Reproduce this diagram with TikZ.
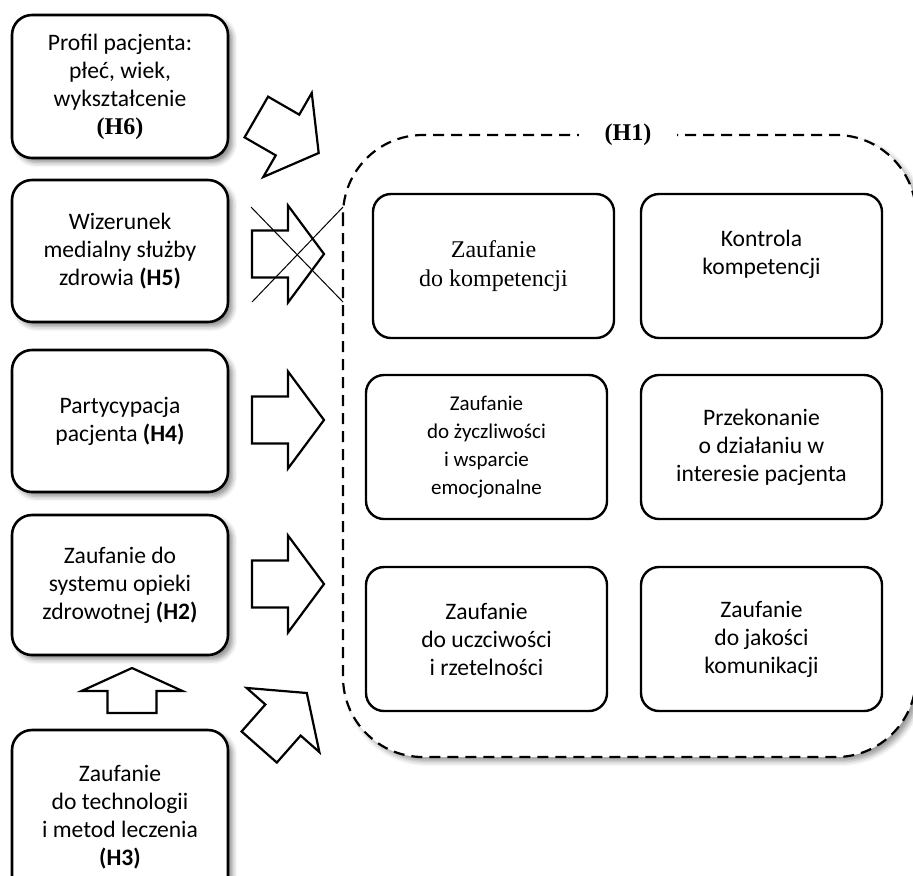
\documentclass[tikz,border=0pt]{standalone}
\usepackage{fontspec}
\setmainfont{Carlito}
\newfontfamily\timesfont{Liberation Serif}
\usetikzlibrary{shadows.blur}

\tikzset{
	boxfont/.style={font=\fontsize{11.8}{14}\selectfont},
	leftbox/.style={draw, line width=1.3pt, rounded corners=10pt, fill=white,
		align=center, boxfont, minimum width=108pt,
		blur shadow={shadow xshift=2.2pt, shadow yshift=-2.2pt,
			shadow blur radius=2.5pt, shadow opacity=45}},
	innerbox/.style={draw, line width=1.2pt, rounded corners=9pt, fill=white,
		align=center, boxfont, minimum width=120.5pt, minimum height=72pt},
	dashframe/.style={line width=1.1pt, dash pattern=on 5.5pt off 3.5pt,
		rounded corners=40pt, fill=white,
		blur shadow={shadow xshift=2.2pt, shadow yshift=-2.2pt,
			shadow blur radius=2.5pt, shadow opacity=40}},
	blkarrow/.style={line width=1.1pt, fill=white, line join=miter},
	pics/blockarrow/.style n args={4}{code={
		\draw[blkarrow] (-#1,-#3) -- ({#1-#2},-#3) -- ({#1-#2},-#4) -- (#1,0)
			-- ({#1-#2},#4) -- ({#1-#2},#3) -- (-#1,#3) -- cycle;
	}},
}

\begin{document}
\begin{tikzpicture}[x=0.5pt, y=-0.5pt]
	\useasboundingbox (0,0) rectangle (913,875);

	% ramka H1
	\draw[dashframe] (343,135) rectangle (916,757);
	\node[fill=white, inner xsep=13pt, inner ysep=2pt, font=\timesfont\bfseries\fontsize{12}{14}\selectfont]
		(h1) at (628,135) {(H1)};

	% wymiary zaufania
	\node[innerbox, font=\timesfont\fontsize{12}{14.5}\selectfont] (kompetencje) at (493.5,266)
		{Zaufanie\\do kompetencji};
	\node[innerbox] (kontrola) at (761.5,266) {Kontrola\\kompetencji\\\mbox{}};
	\node[innerbox, font=\fontsize{10.5}{14}\selectfont] (zyczliwosc) at (486.5,447)
		{Zaufanie\\do życzliwości\\i wsparcie\\emocjonalne};
	\node[innerbox] (interes) at (761.5,447) {Przekonanie\\o działaniu w\\interesie pacjenta};
	\node[innerbox] (uczciwosc) at (486.5,639) {Zaufanie\\do uczciwości\\i rzetelności};
	\node[innerbox] (komunikacja) at (761.5,639) {Zaufanie\\do jakości\\komunikacji};

	% czynniki
	\node[leftbox, minimum height=71.5pt] (h6) at (120,86.5)
		{Profil pacjenta:\\płeć, wiek,\\wykształcenie\\{\timesfont\bfseries\fontsize{12}{14}\selectfont(H6)}};
	\node[leftbox, minimum height=71pt] (h5) at (120,251)
		{Wizerunek\\medialny służby\\zdrowia \textbf{(H5)}};
	\node[leftbox, minimum height=71pt] (h4) at (120,421)
		{Partycypacja\\pacjenta \textbf{(H4)}};
	\node[leftbox, minimum height=70pt] (h2) at (120,585)
		{Zaufanie do\\systemu opieki\\zdrowotnej \textbf{(H2)}};
	\node[leftbox, minimum height=87.5pt] (h3) at (120,817.5)
		{Zaufanie\\do technologii\\i metod leczenia\\\textbf{(H3)}};

	% strzalki
	\pic[rotate=-30] at (287.5,135) {blockarrow={36}{36}{23.5}{48.5}};
	\pic at (288,254) {blockarrow={36}{36}{23.5}{48.5}};
	\pic at (288,420) {blockarrow={36}{36}{23.5}{48.5}};
	\pic at (288,584) {blockarrow={36}{36}{23.5}{48.5}};
	\pic[rotate=48.6] at (283,720) {blockarrow={36}{36}{23.5}{48.5}};
	\pic[rotate=90] at (132,690.5) {blockarrow={22.5}{23}{24.5}{50.5}};

	% H5 odrzucona
	\draw[line width=0.5pt] (251,207) -- (343,302) (252,302) -- (343,207);
\end{tikzpicture}
\end{document}
